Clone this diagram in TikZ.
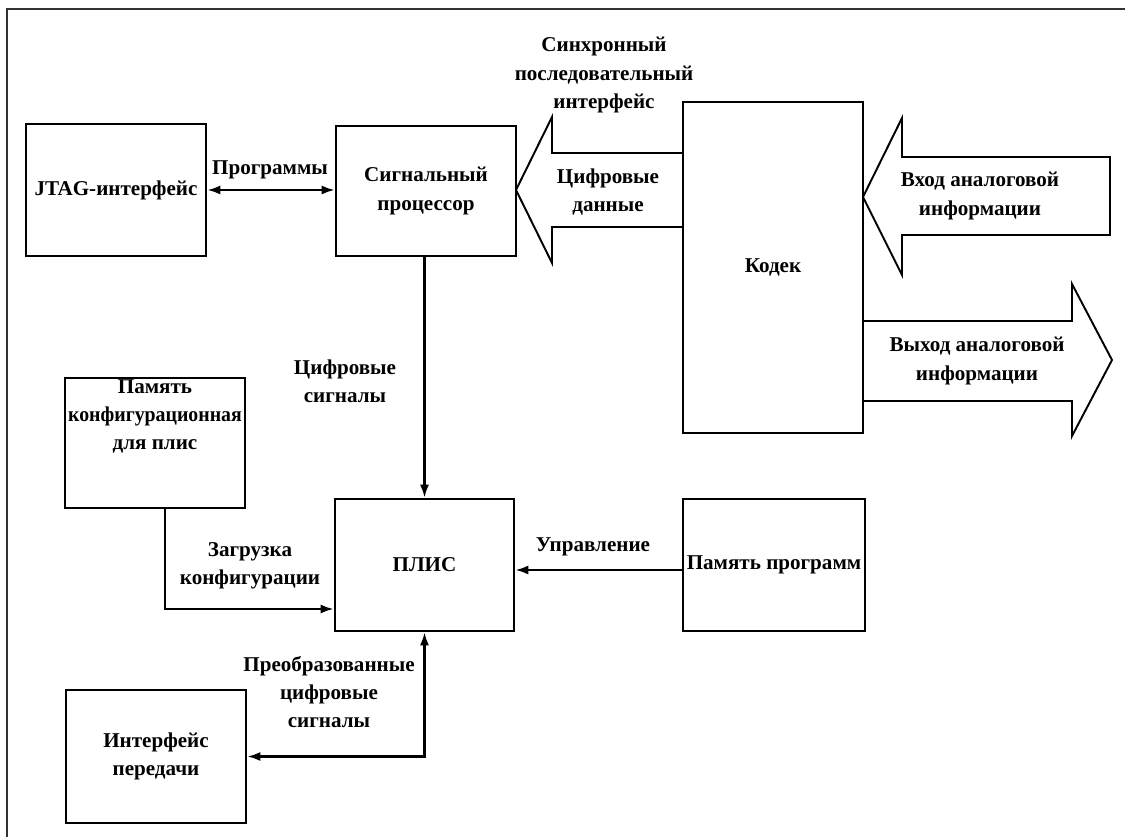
\documentclass[tikz,border=0pt]{standalone}
\usepackage{fontspec}
\usepackage{graphicx}
\setmainfont{Liberation Serif}
\usetikzlibrary{arrows.meta}

\begin{document}
\begin{tikzpicture}[x=0.02cm, y=-0.02cm,
	font=\bfseries\fontsize{12}{16}\selectfont,
	block/.style={draw, line width=1.5pt, align=center, minimum width=3.6cm, minimum height=2.6cm, inner sep=0pt},
	caption/.style={align=center, inner sep=0pt},
	link/.style={line width=1.3pt, -{Latex[length=2.6mm,width=1.8mm]}},
	twoway/.style={link, {Latex[length=2.6mm,width=1.8mm]}-{Latex[length=2.6mm,width=1.8mm]}},
	bigarrow/.style={draw, line width=1.1pt, line join=miter}]
	\useasboundingbox (0,0) rectangle (1125,837);
	\draw[line width=1.4pt, black!80] (7,837) -- (7,9) -- (1125,9);

	% blocks
	\node [block, minimum height=2.64cm] (jtag) at (116,190) {JTAG-интерфейс};
	\node [block] (sp) at (426,191) {Сигнальный\\процессор};
	\node [block, minimum height=6.62cm] (codec) at (773,267.5) {Кодек};
	\node [block] (memcfg) at (155,443) {Память\\\scalebox{0.94}[1]{конфигурационная}\\для плис\\~\\~};
	\node [block, minimum width=3.58cm, minimum height=2.64cm] (plis) at (424.5,565) {ПЛИС};
	\node [block, minimum width=3.64cm, minimum height=2.64cm] (memprog) at (774,565) {Память программ};
	\node [block, minimum height=2.66cm] (iface) at (156,756.5) {Интерфейс\\передачи};

	% wide arrows of the codec
	\draw [bigarrow] (516,190) -- (552,117) -- (552,153) -- (683,153) -- (683,227) -- (552,227) -- (552,263) -- cycle;
	\draw [bigarrow] (863,197) -- (902,118) -- (902,157) -- (1110,157) -- (1110,235) -- (902,235) -- (902,275) -- cycle;
	\draw [bigarrow] (863,321) -- (1072,321) -- (1072,284) -- (1112,360) -- (1072,436) -- (1072,401) -- (863,401) -- cycle;

	% captions
	\node [caption] (progs) at (270,170) {Программы};
	\node [caption] (sync) at (604,75) {Синхронный\\последовательный\\интерфейс};
	\node [caption] (digdata) at (608,192) {Цифровые\\данные};
	\node [caption] (ain) at (980,196) {Вход аналоговой\\информации};
	\node [caption] (aout) at (977,361) {Выход аналоговой\\информации};
	\node [caption] (digsig) at (345,381) {Цифровые\\сигналы};
	\node [caption] (load) at (250,566) {Загрузка\\конфигурации};
	\node [caption] (ctrl) at (593,547) {Управление};
	\node [caption] (conv) at (329,692) {Преобразованные\\цифровые\\сигналы};

	% connectors
	\draw [twoway] (jtag.east) -- (jtag.east -| sp.west);
	\draw [link] (plis.north |- sp.south) -- (plis.north);
	\draw [link] ([yshift=-0.1cm]memprog.west) -- ([yshift=-0.1cm]memprog.west -| plis.east);
	\draw [link] ([xshift=0.2cm]memcfg.south) |- ([yshift=-0.88cm]plis.west);
	\draw [twoway] (plis.south) |- (iface.east);
\end{tikzpicture}
\end{document}
